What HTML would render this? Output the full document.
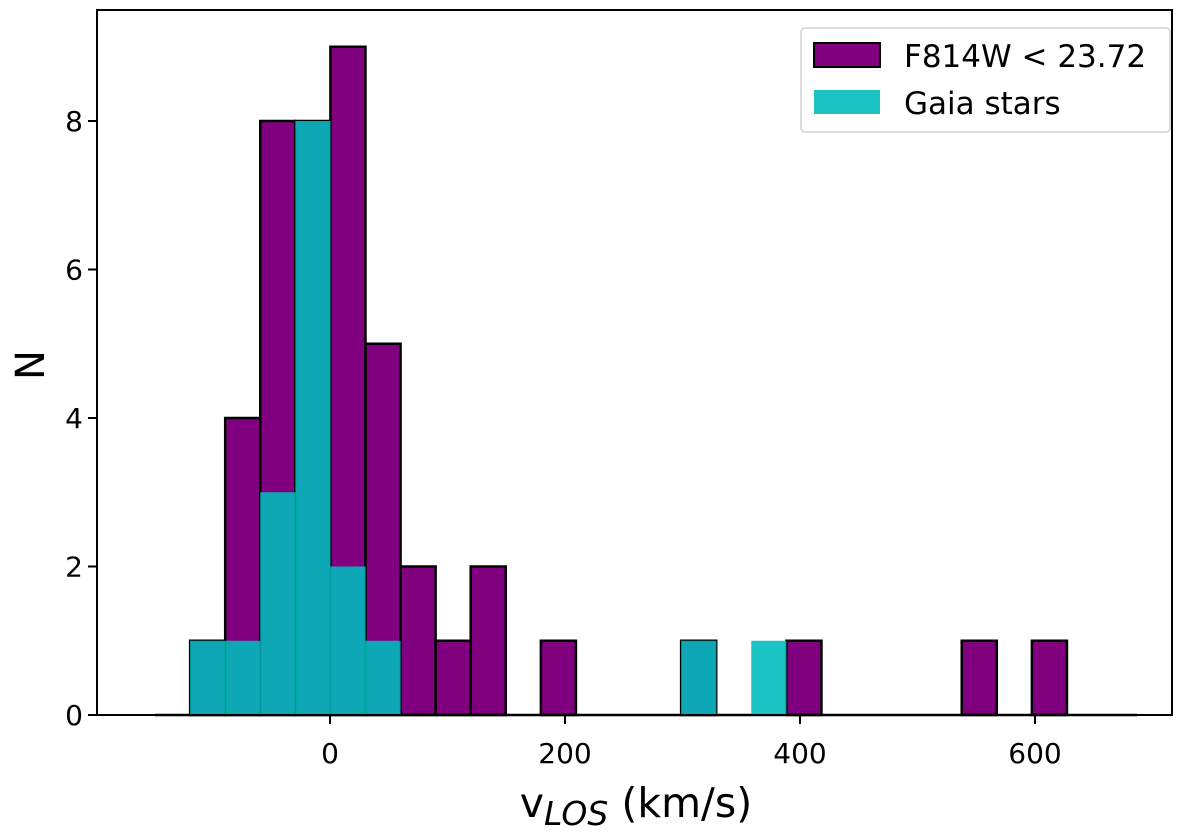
<!DOCTYPE html>
<html><head><meta charset="utf-8"><style>
html,body{margin:0;padding:0;background:#fff}
svg{display:block;font-family:"DejaVu Sans","Liberation Sans",sans-serif}
</style></head><body>
<svg id="chart" width="1200" height="836" viewBox="0 0 1200 836" xmlns="http://www.w3.org/2000/svg">
<g id="bars"></g>
<g id="axes"></g>
<g>
<rect x="801" y="28" width="369" height="104" rx="4" fill="#fff" fill-opacity="0.8" stroke="#d0d0d0" stroke-width="1.5"/>
<rect x="814" y="43" width="66" height="24" fill="#800080" stroke="#000" stroke-width="2"/>
<text x="904" y="67" font-size="31">F814W &lt; 23.72</text>
<rect x="814" y="90" width="66" height="24" fill="#00bcbc" fill-opacity="0.89"/>
<text x="904" y="114" font-size="31">Gaia stars</text>
</g>
<text x="44" y="365" font-size="40" text-anchor="middle" transform="rotate(-90 44 365)">N</text>
<text x="636" y="817" font-size="41" text-anchor="middle">v<tspan font-size="33" font-style="italic" dy="8">LOS</tspan><tspan dy="-8"> (km/s)</tspan></text>
</svg>
<script>
const binStart = -148.9;
const binWidth = 29.85;
const purpleCounts = [0,1,4,8,8,9,5,2,1,2,0,1,0,0,0,1,0,0,1,0,0,0,0,1,0,1,0,0];
const gaiaCounts   = [0,1,1,3,8,2,1,0,0,0,0,0,0,0,0,1,0,1,0,0,0,0,0,0,0,0,0,0];
const xTicks = [0,200,400,600];
const yTicks = [0,2,4,6,8];

const X0=97, X1=1172, Y0=10, Y1=715;
function xs(v){ return 330 + v*1.175; }
function ys(v){ return 715 - v*74.25; }
const NS='http://www.w3.org/2000/svg';
const bars=document.getElementById('bars');
const axes=document.getElementById('axes');
function mk(tag,attrs,parent){const e=document.createElementNS(NS,tag);for(const k in attrs)e.setAttribute(k,attrs[k]);parent.appendChild(e);return e;}

purpleCounts.forEach((c,i)=>{
  if(c<=0) return;
  const a=xs(binStart+i*binWidth), b=xs(binStart+(i+1)*binWidth);
  const r=mk('rect',{x:a,y:ys(c),width:b-a,height:ys(0)-ys(c),fill:'#800080',stroke:'#000','stroke-width':2.5},bars);
  
  
});
const base=mk('line',{x1:xs(binStart),x2:xs(binStart+purpleCounts.length*binWidth),y1:ys(0),y2:ys(0),stroke:'#000','stroke-width':2.5},bars);


gaiaCounts.forEach((c,i)=>{
  if(c<=0) return;
  const a=xs(binStart+i*binWidth), b=xs(binStart+(i+1)*binWidth);
  const r=mk('rect',{x:a,y:ys(c),width:b-a,height:ys(0)-ys(c),fill:'#00bcbc','fill-opacity':0.89},bars);
  
  
});

const frame=mk('rect',{x:X0,y:Y0,width:X1-X0,height:Y1-Y0,fill:'none',stroke:'#000','stroke-width':2},axes);


xTicks.forEach(t=>{
  const l=mk('line',{x1:xs(t),x2:xs(t),y1:Y1,y2:Y1+9,stroke:'#000','stroke-width':2},axes);
  
  
  const tx=mk('text',{x:xs(t),y:Y1+48,'font-size':28,'text-anchor':'middle'},axes);
  tx.textContent=t;
  
  
});
yTicks.forEach(t=>{
  const l=mk('line',{x1:X0-9,x2:X0,y1:ys(t),y2:ys(t),stroke:'#000','stroke-width':2},axes);
  
  
  const tx=mk('text',{x:X0-14,y:ys(t)+10,'font-size':28,'text-anchor':'end'},axes);
  tx.textContent=t;
  
  
});
</script>
</body></html>
